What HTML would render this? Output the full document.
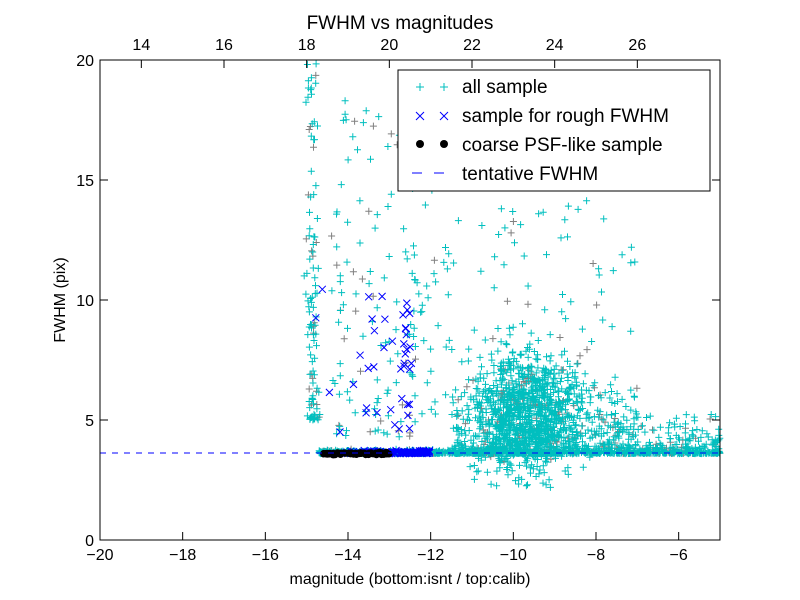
<!DOCTYPE html>
<html><head><meta charset="utf-8"><style>
html,body{margin:0;padding:0;background:#fff}
svg{display:block;font-family:"Liberation Sans","DejaVu Sans",sans-serif}
</style></head><body>
<svg id="s" width="800" height="600" viewBox="0 0 800 600" xmlns="http://www.w3.org/2000/svg">
<rect width="800" height="600" fill="#fff"/>
<g id="pts"></g>
<line x1="100" y1="453" x2="720" y2="453" stroke="#0000ff" stroke-width="1" stroke-dasharray="6,6"/>
<rect x="100" y="60" width="620" height="480" fill="none" stroke="#000" stroke-width="1"/>
<g id="ticks" stroke="#000" stroke-width="1"></g>
<g id="labels" font-size="16" fill="#000"></g>
<text x="400" y="29" font-size="19" text-anchor="middle">FWHM vs magnitudes</text>
<text x="410" y="584" font-size="16" text-anchor="middle">magnitude (bottom:isnt / top:calib)</text>
<text transform="translate(65,300) rotate(-90)" font-size="16" text-anchor="middle">FWHM (pix)</text>
<g>
<rect x="398" y="70" width="312" height="121" fill="#fff" stroke="#000" stroke-width="1"/>
<path d="M416 87h8M420 83v8M440 87h8M444 83v8" stroke="#00bfbf" stroke-width="1"/>
<path d="M416 112l8 8M416 120l8-8M440 112l8 8M440 120l8-8" stroke="#0000ff" stroke-width="1"/>
<circle cx="420" cy="144" r="4"/><circle cx="444" cy="144" r="4"/>
<path d="M412 173h10M434 173h10" stroke="#0000ff" stroke-width="1"/>
<text x="462" y="93" font-size="19">all sample</text>
<text x="462" y="122" font-size="19">sample for rough FWHM</text>
<text x="462" y="151" font-size="19">coarse PSF-like sample</text>
<text x="462" y="180" font-size="19">tentative FWHM</text>
</g>
</svg>
<script>
var X=function(v){return 100+(v+20)*620/15},Y=function(v){return 540-v*24};
var t=document.getElementById('ticks'),l=document.getElementById('labels'),ns='http://www.w3.org/2000/svg';
function el(p,n,a,txt){var e=document.createElementNS(ns,n);for(var k in a)e.setAttribute(k,a[k]);if(txt!==undefined)e.textContent=String(txt);p.appendChild(e);}
for(var v=-20;v<=-5;v+=2){var x=X(v);el(t,'line',{x1:x,y1:540,x2:x,y2:532});el(l,'text',{x:x,y:560,'text-anchor':'middle'},(v<0?'\u2212':'')+Math.abs(v));}
for(var v=14;v<=26;v+=2){var x=X(v-33);el(t,'line',{x1:x,y1:60,x2:x,y2:68});el(l,'text',{x:x,y:50,'text-anchor':'middle'},v);}
for(var v=0;v<=20;v+=5){var y=Y(v);el(t,'line',{x1:100,y1:y,x2:108,y2:y});el(t,'line',{x1:720,y1:y,x2:712,y2:y});el(l,'text',{x:94,y:y+6,'text-anchor':'end'},v);}
var seed=11;function r(){seed=(seed*16807)%2147483647;return seed/2147483647;}
function g(){return (r()+r()+r()+r()-2)*0.9;}
var cy='',gr='',bl='',bk='';
function plus(x,y){if(x<100||x>720||y<60||y>540)return '';return 'M'+(x-3.5).toFixed(1)+' '+y.toFixed(1)+'h7M'+x.toFixed(1)+' '+(y-3.5).toFixed(1)+'v7';}
function cross(x,y){return 'M'+(x-3.5).toFixed(1)+' '+(y-3.5).toFixed(1)+'l7 7m0-7l-7 7';}
function add(mx,my,gray){var p=plus(X(mx),Y(my));if(gray)gr+=p;else cy+=p;}
var i;
for(i=0;i<1200;i++){var m=-14.7+Math.pow(r(),1.2)*9.7;add(m,3.6+Math.abs(g())*0.12,r()<0.15);}
for(i=0;i<110;i++){add(-14.85+g()*0.15,5+Math.pow(r(),2.2)*15,r()<0.15);}
for(i=0;i<120;i++){add(-14.4+r()*2.2,4.3+Math.pow(r(),1.6)*14,r()<0.2);}
for(i=0;i<1000;i++){var m=-9.7+g()*1.2,f=5.2+g()*2.4;if(f<2)f=2+r();add(m,f,r()<0.1);}
for(i=0;i<300;i++){add(-11.5+r()*4.5,3.8+Math.pow(r(),2)*3,r()<0.1);}
for(i=0;i<160;i++){add(-8+r()*3,3.8+Math.pow(r(),2)*1.5,r()<0.15);}
for(i=0;i<150;i++){add(-12.5+Math.pow(r(),1.3)*5.5,5+Math.pow(r(),1.1)*12,r()<0.15);}
for(i=0;i<20;i++){var x=X(-14.8+r()*2),y=Y(4.5+Math.pow(r(),1.3)*6.5);bl+=cross(x,y);}
for(i=0;i<22;i++){var x=X(-12.6+g()*0.15),y=Y(4.5+r()*6);bl+=cross(x,y);}
for(i=0;i<120;i++){var x=X(-14.2+Math.pow(r(),0.6)*2.2),y=Y(3.6+Math.abs(g())*0.1);bl+=cross(x,y);}
for(i=0;i<80;i++){var x=X(-14.6+r()*1.6),y=Y(3.6+g()*0.05);bk+='M'+(x+3.5).toFixed(1)+' '+y.toFixed(1)+'a3.5 3.5 0 1 0 -7 0a3.5 3.5 0 1 0 7 0';}
document.getElementById('pts').innerHTML='<path d="'+gr+'" stroke="#808080" stroke-width="1" fill="none"/><path d="'+cy+'" stroke="#00bfbf" stroke-width="1" fill="none"/><path d="'+bl+'" stroke="#0000ff" stroke-width="1" fill="none"/><path d="'+bk+'" fill="#000"/>';
</script>
</body></html>
